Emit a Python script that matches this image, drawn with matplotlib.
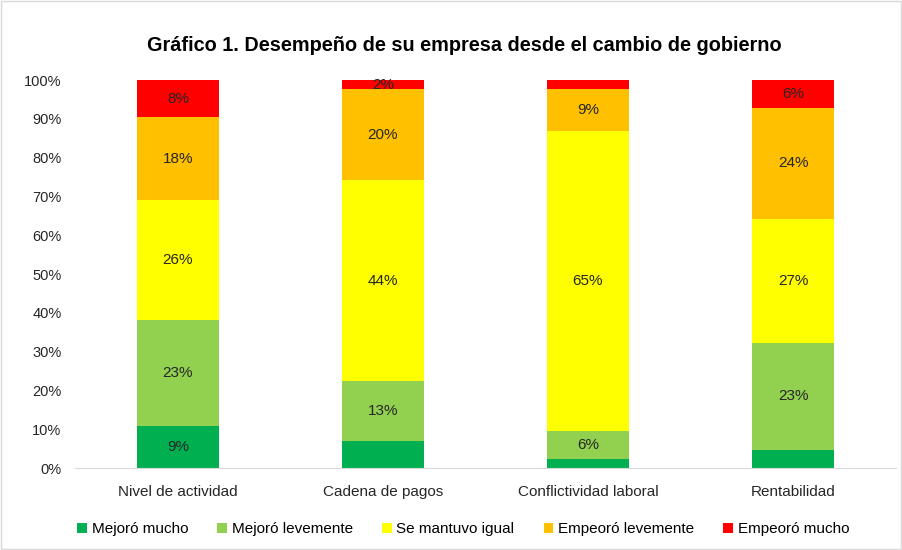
import matplotlib.pyplot as plt
import numpy as np

plt.rcParams['font.family'] = ['Liberation Sans', 'DejaVu Sans']

categorias = ['Nivel de actividad', 'Cadena de pagos', 'Conflictividad laboral', 'Rentabilidad']
series = ['Mejoró mucho', 'Mejoró levemente', 'Se mantuvo igual', 'Empeoró levemente', 'Empeoró mucho']
mejoro_mucho = [9, 6, 2, 4]
mejoro_levemente = [23, 13, 6, 23]
se_mantuvo = [26, 44, 65, 27]
empeoro_levemente = [18, 20, 9, 24]
empeoro_mucho = [8, 2, 2, 6]
# which segments carry a label (as in the original)
mostrar = [[True, False, False, False],
           [True, True, True, True],
           [True, True, True, True],
           [True, True, True, True],
           [True, True, False, True]]

colores = ['#00B050', '#92D050', '#FFFF00', '#FFC000', '#FF0000']

datos = np.array([mejoro_mucho, mejoro_levemente, se_mantuvo, empeoro_levemente, empeoro_mucho], dtype=float)
totales = datos.sum(axis=0)
pct = datos / totales * 100

fig = plt.figure(figsize=(9.03, 5.5), dpi=100)
ax = fig.add_axes([0.0836, 0.149, 0.9081, 0.7055])

x = np.arange(len(categorias))
base = np.zeros(len(categorias))
for i, nombre in enumerate(series):
    barras = ax.bar(x, pct[i], 0.4, bottom=base, color=colores[i], label=nombre)
    etiquetas = ['%d%%' % datos[i][j] if mostrar[i][j] else '' for j in range(len(categorias))]
    ax.bar_label(barras, labels=etiquetas, label_type='center', fontsize=11, color='#262626')
    base += pct[i]

ax.set_xlim(-0.5, len(categorias) - 0.5)
ax.set_ylim(0, 100)
ax.set_yticks(np.arange(0, 101, 10))
ax.set_yticklabels(['%d%%' % v for v in range(0, 101, 10)])
ax.set_xticks(x, categorias)
ax.tick_params(axis='both', length=0, colors='#262626')
ax.tick_params(axis='y', pad=10, labelsize=10.5)
ax.tick_params(axis='x', pad=12, labelsize=11)
for lado in ['top', 'right', 'left']:
    ax.spines[lado].set_visible(False)
ax.spines['bottom'].set_color('#D9D9D9')

fig.suptitle('Gráfico 1. Desempeño de su empresa desde el cambio de gobierno',
             x=0.514, y=0.935, fontsize=14.3, fontweight='bold', color='#000000')

fig.legend(loc='lower center', bbox_to_anchor=(0.513, 0.0), ncol=5, frameon=False,
           fontsize=11, handlelength=0.65, handleheight=0.65, handletextpad=0.3, columnspacing=1.9)

fig.patches.append(plt.Rectangle((0.001, 0.002), 0.997, 0.996, transform=fig.transFigure,
                                 fill=False, edgecolor='#D9D9D9', linewidth=1))

fig.savefig('out.png', dpi=100)
